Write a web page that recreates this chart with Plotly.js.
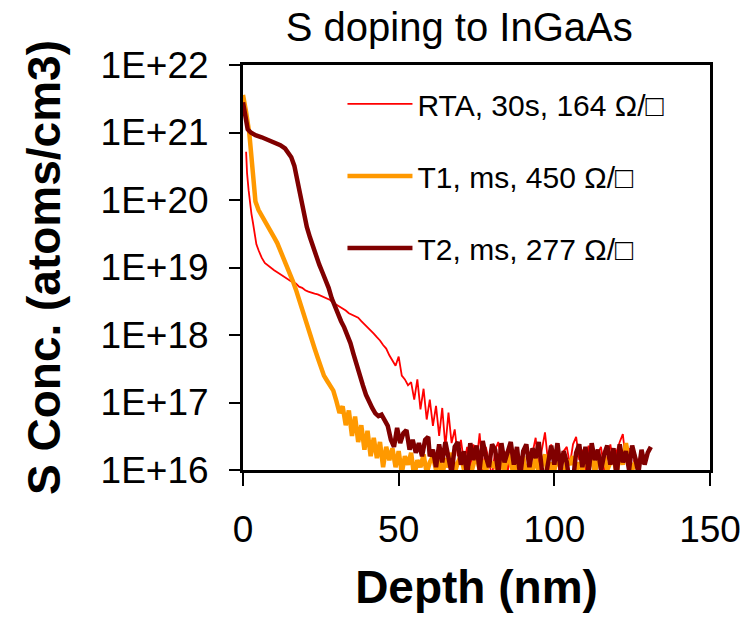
<!DOCTYPE html>
<html>
<head>
<meta charset="utf-8">
<script src="https://cdn.plot.ly/plotly-3.0.1.min.js"></script>
<style>html,body{margin:0;padding:0;background:#fff;}#chart{width:748px;height:622px;}</style>
</head>
<body>
<div id="chart"></div>
<script>
// Series names
var seriesNames = ["RTA, 30s, 164 \u03A9/\u25A1", "T1, ms, 450 \u03A9/\u25A1", "T2, ms, 277 \u03A9/\u25A1"];

// RTA, 30s
var rtaDepth = [1.0,1.3,1.8,2.2,2.7,3.2,3.7,4.3,5,6,7,8,9,10,11,12,13,14,15,16,17,18,19,20,21,22,23,24,25,26,27,28,29,30,31,32,33,34,35,36,37,38,39,40,41,42,43,44,45,46,47,48,49,50,51,52,53,54,55,56,57,58,59,60,61,62,63,64,65,66,67,68,69,70,71,72,73,74,75,76,77,78,79,80,81,82,83,84,85,86,87,88,89,90,91,92,93,94,95,96,97,98,99,100,101,102,103,104,105,106,107,108,109,110,111,112,113,114,115,116,117,118,119,120,121,122,123,124,125,126,127,128,129,130,131,132];
var rtaConc = [5.2e20,2.5e20,1.4e20,9.1e19,6.3e19,4.6e19,3.2e19,2.2e19,1.8e19,1.4e19,1.17e19,1.07e19,1.0e19,9.1e18,8.5e18,7.9e18,7.4e18,6.9e18,6.5e18,6.0e18,5.8e18,5.2e18,5.0e18,4.6e18,4.4e18,4.2e18,4.1e18,4.0e18,3.8e18,3.6e18,3.5e18,3.3e18,3.0e18,2.8e18,2.6e18,2.5e18,2.3e18,2.1e18,2.0e18,1.9e18,1.8e18,1.6e18,1.45e18,1.3e18,1.17e18,1.05e18,9.3e17,8.3e17,7.1e17,6.3e17,5.0e17,4.2e17,3.5e17,4.8e17,2.5e17,2.2e17,1.8e17,2.0e17,1.1e17,2.2e17,7.9e16,1.6e17,5.6e16,1.1e17,4.5e16,8.9e16,3.2e16,8.3e16,2.2e16,7.1e16,2.5e16,4.0e16,1.6e16,2.8e16,1.26e16,2.2e16,1.1e16,2.4e16,1.3e16,3.5e16,1.0e16,2.2e16,1.4e16,0.8e16,2.0e16,2.6e16,1.2e16,1.9e16,0.9e16,2.5e16,1.3e16,2.1e16,1.0e16,1.6e16,2.3e16,0.8e16,1.8e16,3.0e16,1.1e16,2.0e16,3.6e16,1.3e16,2.4e16,1.0e16,1.6e16,0.7e16,1.9e16,2.2e16,1.2e16,2.4e16,3.1e16,1.4e16,2.0e16,1.0e16,2.3e16,1.3e16,0.8e16,1.8e16,2.2e16,1.0e16,1.6e16,2.4e16,1.2e16,1.9e16,2.6e16,3.4e16,1.3e16,2.1e16,1.0e16,1.7e16,1.2e16,1.9e16];

// T1, ms
var t1Depth = [0,0.5,1,1.5,2,2.5,3,3.5,4,5,6,7,8,9,10,11,12,13,14,15,16,17,18,19,20,21,22,23,24,25,26,27,28,29,30,31,32,33,34,35,36,37,38,39,40,41,42,43,44,45,46,47,48,49,50,51,52,53,54,55,56,57,58,59,60,61,62,63,64,65,66,67,68,69,70,71,72,73,74,75,76,77,78,79,80,81,82,83,84,85,86,87,88,89,90,91,92,93,94,95,96,97,98,99,100,101,102,103,104,105,106,107,108,109,110,111,112,113,114,115,116,117,118,119,120,121,122,123,124,125,126,127,128,129,130,131,132];
var t1Conc = [3.6e21,2.8e21,2.0e21,1.4e21,1.0e21,5.6e20,3.2e20,1.6e20,9.5e19,7.1e19,5.8e19,4.8e19,4.0e19,3.3e19,2.8e19,2.3e19,1.8e19,1.4e19,1.12e19,8.5e18,6.3e18,4.7e18,3.3e18,2.5e18,1.8e18,1.2e18,8.9e17,6.3e17,4.6e17,3.4e17,2.5e17,2.1e17,1.8e17,1.5e17,1.05e17,7.0e16,8.8e16,4.6e16,7.6e16,3.2e16,6.2e16,2.6e16,4.6e16,2.0e16,3.8e16,1.6e16,3.0e16,1.5e16,2.6e16,1.1e16,2.2e16,1.4e16,2.1e16,1.1e16,1.9e16,0.9e16,1.6e16,1.2e16,1.8e16,0.8e16,1.4e16,1.1e16,1.7e16,0.9e16,1.3e16,1.6e16,1.0e16,1.4e16,0.8e16,1.5e16,1.1e16,1.8e16,0.9e16,1.3e16,1.6e16,1.0e16,1.4e16,0.8e16,1.2e16,1.7e16,1.0e16,1.4e16,0.9e16,1.6e16,1.1e16,1.3e16,0.8e16,1.5e16,1.0e16,1.8e16,1.2e16,0.9e16,1.4e16,1.1e16,1.6e16,0.8e16,1.3e16,1.0e16,1.5e16,0.9e16,1.2e16,1.7e16,0.7e16,1.3e16,1.0e16,1.5e16,1.1e16,0.8e16,1.4e16,1.2e16,1.6e16,0.9e16,1.3e16,1.0e16,1.5e16,1.1e16,1.8e16,0.9e16,1.4e16,1.2e16,1.6e16,1.0e16,1.3e16,1.5e16,0.9e16,1.7e16,1.2e16,2.5e16,1.4e16,1.0e16,1.3e16,1.1e16];

// T2, ms
var t2Depth = [0,0.5,1,1.5,2.5,4,6,8,10,12,13.5,14.5,15.5,16.5,17.5,18.5,19.5,20.5,21.5,22.5,23.5,24.5,25.5,26.5,27.5,28.5,29.5,30.5,31.5,32.5,33.5,34.5,35.5,36.5,37.5,38.5,39.5,40.5,41.5,42.5,43.5,44.5,45.5,46.5,47.5,48.5,49.5,50.5,51.5,52.5,53.5,54.5,55.5,56.5,57.5,58.5,59.5,60,61,62,63,64,65,66,67,68,69,70,71,72,73,74,75,76,77,78,79,80,81,82,83,84,85,86,87,88,89,90,91,92,93,94,95,96,97,98,99,100,101,102,103,104,105,106,107,108,109,110,111,112,113,114,115,116,117,118,119,120,121,122,123,124,125,126,127,128,129,130,131,132];
var t2Conc = [2.8e21,2.0e21,1.4e21,1.12e21,1.0e21,9.1e20,8.5e20,7.8e20,7.2e20,6.5e20,5.8e20,5.1e20,4.3e20,3.2e20,1.9e20,1.1e20,6.3e19,4.0e19,2.8e19,2.0e19,1.4e19,1.1e19,8.5e18,6.6e18,5.0e18,3.5e18,2.6e18,2.0e18,1.6e18,1.3e18,1.0e18,7.6e17,5.2e17,3.5e17,2.5e17,1.8e17,1.3e17,1.0e17,8.3e16,6.9e16,6.3e16,6.6e16,5.6e16,4.5e16,2.8e16,2.2e16,4.2e16,2.5e16,3.5e16,3.9e16,2.0e16,2.8e16,1.8e16,2.5e16,1.6e16,2.8e16,3.1e16,1.6e16,2.0e16,1.1e16,2.4e16,1.3e16,2.6e16,1.5e16,0.9e16,2.2e16,2.6e16,1.2e16,1.9e16,0.8e16,2.5e16,1.4e16,2.3e16,1.0e16,2.7e16,1.6e16,1.1e16,2.4e16,2.0e16,0.9e16,2.5e16,1.3e16,1.8e16,2.6e16,1.2e16,2.2e16,0.8e16,1.9e16,2.4e16,1.1e16,2.1e16,1.5e16,2.6e16,1.0e16,0.7e16,1.4e16,2.3e16,1.2e16,2.5e16,1.0e16,1.9e16,1.3e16,0.6e16,0.7e16,1.8e16,2.4e16,1.1e16,2.2e16,0.9e16,2.5e16,1.4e16,2.0e16,1.0e16,1.7e16,2.3e16,1.2e16,2.1e16,0.8e16,2.4e16,1.3e16,1.9e16,1.0e16,2.3e16,1.5e16,0.9e16,2.0e16,1.2e16,1.8e16,2.2e16];

var yTickVals = [1e16,1e17,1e18,1e19,1e20,1e21,1e22];
var yTickText = ["1E+16","1E+17","1E+18","1E+19","1E+20","1E+21","1E+22"];
var xTickVals = [0,50,100,150];

var FONT = "Liberation Sans, Arial, Helvetica, sans-serif";

var traces = [
  {x: rtaDepth, y: rtaConc, name: seriesNames[0], legendgroup: "a", mode: "lines", line: {color: "#FF0000", width: 1.8}},
  {x: t1Depth, y: t1Conc, name: seriesNames[1], legendgroup: "b", mode: "lines", line: {color: "#FF9900", width: 4.5}},
  {x: t2Depth, y: t2Conc, name: seriesNames[2], legendgroup: "c", mode: "lines", line: {color: "#800000", width: 4.5}}
];

var layout = {
  width: 748, height: 622,
  paper_bgcolor: "#ffffff", plot_bgcolor: "#ffffff",
  margin: {l: 243, r: 38, t: 65, b: 152},
  font: {family: FONT, color: "#000000", size: 30},
  title: {text: "S doping to InGaAs", font: {family: FONT, size: 40, color: "#000"}, x: 0.614, xanchor: "center", xref: "container", y: 0.957, yanchor: "middle", yref: "container"},
  xaxis: {
    range: [0, 150], tickvals: xTickVals, ticks: "outside", ticklen: 13, tickwidth: 2, tickcolor: "#000",
    showline: true, linewidth: 3, linecolor: "#000", mirror: true, showgrid: false, zeroline: false,
    tickfont: {family: FONT, size: 37, color: "#000"}, ticklabelstandoff: 12,
    title: {text: "<b>Depth (nm)</b>", font: {family: FONT, size: 46, color: "#000"}, standoff: 22}
  },
  yaxis: {
    type: "log", range: [16, 22], tickvals: yTickVals, ticktext: yTickText, ticks: "outside", ticklen: 11, tickwidth: 2, tickcolor: "#000",
    showline: true, linewidth: 3, linecolor: "#000", mirror: true, showgrid: false, zeroline: false,
    tickfont: {family: FONT, size: 37, color: "#000"}, ticklabelstandoff: 13,
    title: {text: "<b>S Conc. (atoms/cm3)</b>", font: {family: FONT, size: 46, color: "#000"}, standoff: 26}
  },
  showlegend: true,
  legend: {x: 0.213, y: 0.968, xanchor: "left", yanchor: "top", bgcolor: "rgba(0,0,0,0)", borderwidth: 0,
           font: {family: FONT, size: 30, color: "#000"}, tracegroupgap: 30, itemwidth: 65}
};

Plotly.newPlot("chart", traces, layout, {staticPlot: true, displayModeBar: false});
</script>
</body>
</html>
